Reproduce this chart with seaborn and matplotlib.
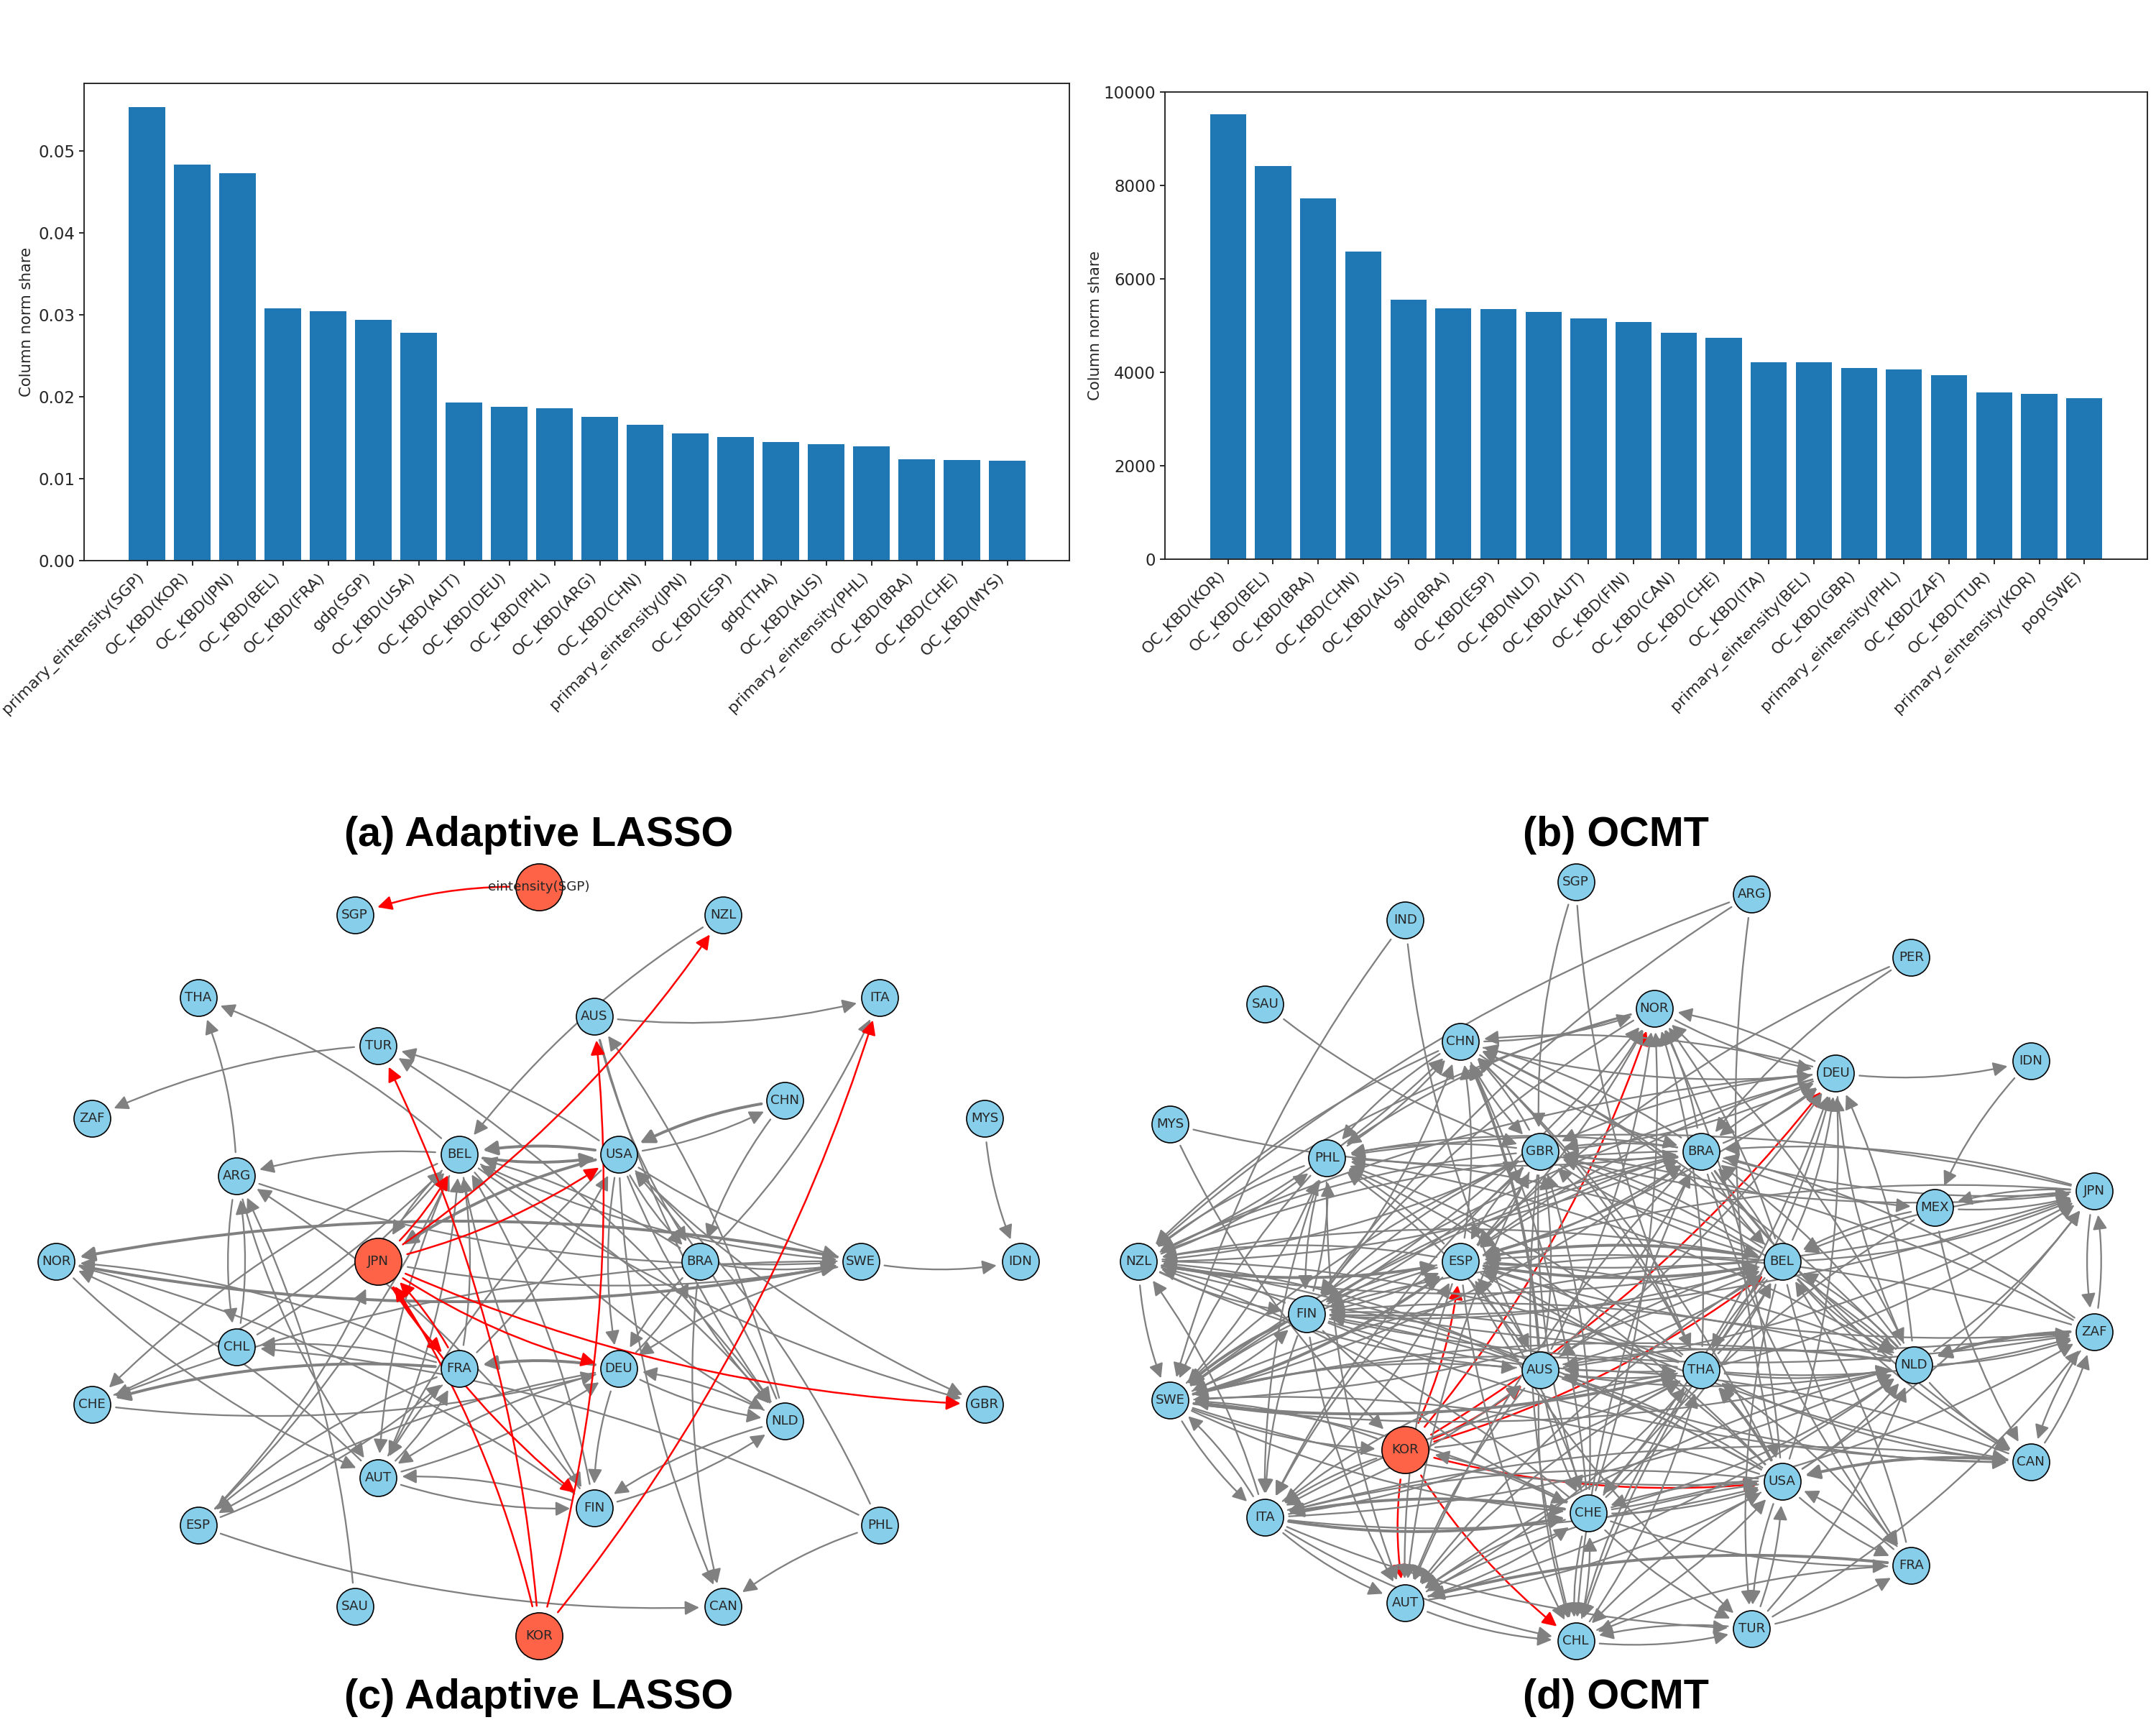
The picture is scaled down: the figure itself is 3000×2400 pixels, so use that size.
import numpy as np
import pandas as pd
import matplotlib
matplotlib.use('Agg')
import matplotlib.pyplot as plt
from matplotlib.patches import FancyArrowPatch
import seaborn as sns

# bar panels
labels_a = ['primary_eintensity(SGP)', 'OC_KBD(KOR)', 'OC_KBD(JPN)', 'OC_KBD(BEL)', 'OC_KBD(FRA)', 'gdp(SGP)',
            'OC_KBD(USA)', 'OC_KBD(AUT)', 'OC_KBD(DEU)', 'OC_KBD(PHL)', 'OC_KBD(ARG)', 'OC_KBD(CHN)',
            'primary_eintensity(JPN)', 'OC_KBD(ESP)', 'gdp(THA)', 'OC_KBD(AUS)', 'primary_eintensity(PHL)',
            'OC_KBD(BRA)', 'OC_KBD(CHE)', 'OC_KBD(MYS)']
values_a = [0.0553, 0.0483, 0.0472, 0.0308, 0.0304, 0.0294, 0.0278, 0.0193, 0.0188, 0.0186,
            0.0175, 0.0166, 0.0155, 0.0151, 0.0145, 0.0142, 0.0139, 0.0124, 0.0123, 0.0122]
labels_b = ['OC_KBD(KOR)', 'OC_KBD(BEL)', 'OC_KBD(BRA)', 'OC_KBD(CHN)', 'OC_KBD(AUS)', 'gdp(BRA)', 'OC_KBD(ESP)',
            'OC_KBD(NLD)', 'OC_KBD(AUT)', 'OC_KBD(FIN)', 'OC_KBD(CAN)', 'OC_KBD(CHE)', 'OC_KBD(ITA)',
            'primary_eintensity(BEL)', 'OC_KBD(GBR)', 'primary_eintensity(PHL)', 'OC_KBD(ZAF)', 'OC_KBD(TUR)',
            'primary_eintensity(KOR)', 'pop(SWE)']
values_b = [9520, 8410, 7720, 6580, 5560, 5370, 5350, 5290, 5150, 5070,
            4850, 4740, 4210, 4210, 4090, 4060, 3940, 3570, 3540, 3440]

# network (c): node positions
nodes_c = ['eintensity(SGP)', 'SGP', 'NZL', 'THA', 'ITA', 'TUR', 'AUS', 'ZAF', 'CHN', 'MYS', 'BEL', 'USA', 'ARG', 'NOR',
           'JPN', 'BRA', 'SWE', 'IDN', 'CHL', 'FRA', 'DEU', 'CHE', 'GBR', 'NLD', 'AUT', 'FIN', 'ESP', 'PHL', 'SAU', 'CAN', 'KOR']
x_c = [392, 258, 526, 144, 640, 275, 432, 67, 571, 716, 334, 450, 172, 41,
       275, 509, 626, 742, 172, 334, 450, 67, 716, 571, 275, 432, 144, 640, 258, 526, 392]
y_c = [645, 665, 665, 725, 725, 760, 739, 813, 800, 813, 839, 839, 855, 917,
       917, 917, 917, 917, 979, 995, 995, 1021, 1021, 1033, 1074, 1096, 1109, 1109, 1168, 1168, 1189]
key_c = ['eintensity(SGP)', 'JPN', 'KOR']

red_c = {'eintensity(SGP)': 'SGP', 'KOR': 'JPN TUR AUS ITA', 'JPN': 'NZL BEL USA FRA FIN DEU GBR', 'FRA': 'JPN'}
gray_c = {
    'TUR': 'ZAF',
    'BEL': 'THA ARG USA SWE NLD FIN CHE AUT JPN GBR',
    'ARG': 'THA SWE CHL AUT',
    'AUS': 'ITA BRA NLD',
    'CHN': 'USA BRA',
    'USA': 'CHN TUR BEL BRA CAN NLD GBR JPN AUT SWE DEU',
    'MYS': 'IDN',
    'SWE': 'IDN NOR DEU CHE',
    'BRA': 'SWE ITA CAN DEU BEL',
    'NOR': 'SWE AUT',
    'NZL': 'BEL',
    'NLD': 'AUS USA BEL DEU FIN TUR',
    'CHL': 'ARG BEL',
    'SAU': 'ARG',
    'ESP': 'JPN FRA CAN BEL',
    'FRA': 'ESP CHL CHE BEL AUT NOR USA',
    'PHL': 'CAN CHL USA',
    'DEU': 'FRA AUT FIN NLD BRA ESP',
    'CHE': 'DEU BEL',
    'AUT': 'FIN DEU FRA NOR BEL',
    'FIN': 'AUT NLD NOR BEL ARG',
    'JPN': 'SWE',
}
heavy_c = [('CHN', 'USA'), ('FRA', 'CHE'), ('DEU', 'FRA'), ('USA', 'JPN'), ('USA', 'BEL'), ('BEL', 'USA'),
           ('SWE', 'NOR'), ('NOR', 'SWE'), ('JPN', 'FRA'), ('FRA', 'JPN')]

# network (d)
nodes_d = ['SGP', 'ARG', 'IND', 'PER', 'SAU', 'NOR', 'CHN', 'IDN', 'DEU', 'MYS', 'GBR', 'BRA', 'PHL', 'JPN', 'MEX', 'NZL', 'ESP',
           'BEL', 'FIN', 'ZAF', 'AUS', 'THA', 'NLD', 'SWE', 'KOR', 'CAN', 'USA', 'ITA', 'CHE', 'FRA', 'AUT', 'CHL', 'TUR']
x_d = [1146, 1274, 1022, 1390, 920, 1203, 1062, 1477, 1335, 851, 1120, 1237, 965, 1523, 1407, 828, 1062,
       1296, 950, 1523, 1120, 1237, 1392, 851, 1022, 1477, 1296, 920, 1155, 1390, 1022, 1146, 1274]
y_d = [641, 650, 669, 696, 730, 733, 757, 771, 780, 817, 837, 837, 842, 866, 878, 917, 917,
       917, 955, 968, 996, 996, 992, 1018, 1054, 1063, 1077, 1103, 1100, 1138, 1165, 1193, 1184]
key_d = ['KOR']

red_d = {'KOR': 'NOR DEU ESP AUS BEL AUT CHL USA'}
gray_d = {
    'IND': 'SWE AUS',
    'SAU': 'GBR',
    'SGP': 'GBR THA',
    'ARG': 'NZL FIN USA',
    'PER': 'ESP BRA',
    'IDN': 'MEX',
    'MYS': 'BRA KOR',
    'DEU': 'IDN NOR BRA NZL SWE GBR NLD CHN ESP',
    'NOR': 'DEU PHL NZL FIN',
    'CHN': 'NOR PHL NZL GBR BRA DEU',
    'JPN': 'ZAF BRA MEX BEL ESP PHL',
    'MEX': 'JPN BEL CAN CHE',
    'AUS': 'CHN NOR DEU PHL NZL SWE ESP BRA THA NLD ITA CHE CHL AUT JPN BEL GBR FIN CAN',
    'THA': 'CHN DEU NOR PHL NZL FIN ESP SWE GBR BEL NLD ITA AUT CHL JPN ZAF CAN',
    'USA': 'PHL CHN NOR ESP NZL FIN THA AUS CHE ITA AUT TUR CHL SWE DEU NLD JPN FRA',
    'CHE': 'ITA SWE AUT CHL TUR NZL GBR USA BEL ESP CHN FRA ZAF NLD KOR NOR DEU',
    'NLD': 'PHL BRA GBR ESP FIN SWE CAN DEU BEL CHN NOR AUS AUT JPN ZAF',
    'BEL': 'ESP PHL GBR NZL FIN SWE THA AUS CHN NOR DEU BRA NLD AUT CHL TUR JPN CAN FRA',
    'BRA': 'DEU PHL NZL ESP FIN SWE GBR MEX BEL AUT CHL NOR JPN NLD CHN FRA CAN',
    'GBR': 'CHN NOR NZL PHL FIN SWE ESP ITA CHE AUT CHL BEL BRA DEU JPN',
    'ESP': 'NZL GBR BRA BEL PHL SWE FIN CHN DEU AUT ITA CHL TUR NOR ZAF JPN CAN',
    'FIN': 'NZL SWE ESP PHL CHN NOR AUT CHE ITA BEL ZAF THA JPN GBR CAN',
    'PHL': 'NZL CHN ITA FIN SWE AUT',
    'NZL': 'PHL ESP FIN GBR SWE BEL AUS CHN ZAF BRA',
    'SWE': 'ITA FIN ESP BEL THA KOR PHL USA CHE NLD BRA',
    'ITA': 'SWE AUT CHE USA NZL TUR CHL AUS THA NLD ESP',
    'KOR': 'SWE THA ITA',
    'AUT': 'CHL THA NLD CHE USA',
    'CHL': 'TUR THA CHE USA',
    'TUR': 'CHL FRA USA NLD ZAF',
    'FRA': 'AUT CHL USA THA BEL',
    'CAN': 'ZAF AUS USA ITA',
    'ZAF': 'CAN NLD JPN GBR ESP BRA',
}
heavy_d = [('SWE', 'THA'), ('SWE', 'ESP'), ('FRA', 'AUT'), ('ITA', 'CHE'), ('CHE', 'ITA'), ('CAN', 'USA'), ('ESP', 'BEL'),
           ('BEL', 'ESP'), ('NZL', 'ESP'), ('FIN', 'SWE'), ('ZAF', 'NLD'), ('USA', 'THA'), ('AUS', 'CHN')]

titles = ['(a) Adaptive LASSO', '(b) OCMT', '(c) Adaptive LASSO', '(d) OCMT']
ylabel = 'Column norm share'

W, H = 3000, 2400
LAYOUT_W, LAYOUT_H = 1568, 1254

sns.set_style('ticks')
plt.rcParams['font.family'] = ['DejaVu Sans']
fig = plt.figure(figsize=(10, 8), dpi=300)


def bar_axes(left, right, top, bottom):
    return fig.add_axes([left / W, 1 - bottom / H, (right - left) / W, (bottom - top) / H])


def draw_bars(ax, labels, values, ymax, label_x, xlim):
    df = pd.DataFrame({'name': labels, 'value': values})
    sns.barplot(data=df, x='name', y='value', color='#1f77b4', saturation=1, width=0.8, linewidth=0, ax=ax)
    ax.set_xlim(*xlim)
    ax.set_ylim(0, ymax)
    ax.set_xlabel('')
    ax.set_ylabel(ylabel, fontsize=5.1)
    ax.yaxis.set_label_coords(label_x, 0.5)
    ax.tick_params(axis='y', labelsize=5.5, length=1.6, width=0.45, pad=1.5, color='#222222')
    ax.tick_params(axis='x', labelsize=5.3, length=1.6, width=0.45, pad=1.5, color='#222222')
    plt.setp(ax.get_xticklabels(), rotation=45, ha='right', rotation_mode='default')
    for s in ax.spines.values():
        s.set_visible(True)
        s.set_linewidth(0.45)
        s.set_color('#222222')


ax_a = bar_axes(117, 1488, 116, 780)
draw_bars(ax_a, labels_a, values_a, 0.0582, -0.051, (-1.39, 20.37))
ax_a.set_yticks([0, 0.01, 0.02, 0.03, 0.04, 0.05])
ax_a.set_yticklabels(['0.00', '0.01', '0.02', '0.03', '0.04', '0.05'])

ax_b = bar_axes(1621, 2988, 128, 778)
draw_bars(ax_b, labels_b, values_b, 10000, -0.064, (-1.4, 20.4))
ax_b.set_yticks([0, 2000, 4000, 6000, 8000, 10000])

# both networks share one full-figure axes
ax_net = fig.add_axes([0, 0, 1, 1], zorder=-1)
ax_net.set_xlim(0, LAYOUT_W)
ax_net.set_ylim(LAYOUT_H, 0)
ax_net.axis('off')


def draw_network(nodes, xs, ys, keys, red, gray, heavy, red_on_top):
    pos = dict(zip(nodes, zip(xs, ys)))

    def edge(a, b, color, lw, z, ms):
        sa = 10 if a in keys else 8
        sb = 10 if b in keys else 8
        ax_net.add_patch(FancyArrowPatch(pos[a], pos[b], arrowstyle='-|>', mutation_scale=ms,
                                         connectionstyle='arc3,rad=0.1', color=color, lw=lw,
                                         shrinkA=sa, shrinkB=sb, zorder=z))

    for a, targets in gray.items():
        for b in targets.split():
            lw = 0.95 if (a, b) in heavy else 0.55
            edge(a, b, 'gray', lw, 2, 10)
    for a, targets in red.items():
        for b in targets.split():
            edge(a, b, 'red', 0.6, 2.5 if red_on_top else 1.5, 10)

    df = pd.DataFrame({'x': xs, 'y': ys, 'name': nodes})
    df['key'] = df['name'].isin(keys)
    for is_key, colour, size in [(False, 'skyblue', 150), (True, 'tomato', 245)]:
        sub = df[df['key'] == is_key]
        sns.scatterplot(data=sub, x='x', y='y', s=size, color=colour, edgecolor='black', linewidth=0.4,
                        ax=ax_net, zorder=3, legend=False)
    for _, row in df.iterrows():
        ax_net.text(row['x'], row['y'], row['name'], fontsize=4.4, ha='center', va='center', zorder=4)


draw_network(nodes_c, x_c, y_c, key_c, red_c, gray_c, heavy_c, True)
draw_network(nodes_d, x_d, y_d, key_d, red_d, gray_d, heavy_d, False)
ax_net.set_xlim(0, LAYOUT_W)
ax_net.set_ylim(LAYOUT_H, 0)
ax_net.set_xlabel('')
ax_net.set_ylabel('')

for txt, cx, cy in zip(titles, [392, 1175, 392, 1175], [607, 607, 1234, 1234]):
    ax_net.text(cx, cy, txt, fontsize=13.8, fontweight='bold', family='Liberation Sans',
                ha='center', va='center', color='black')

fig.savefig('out.png', dpi=300, facecolor='white')
